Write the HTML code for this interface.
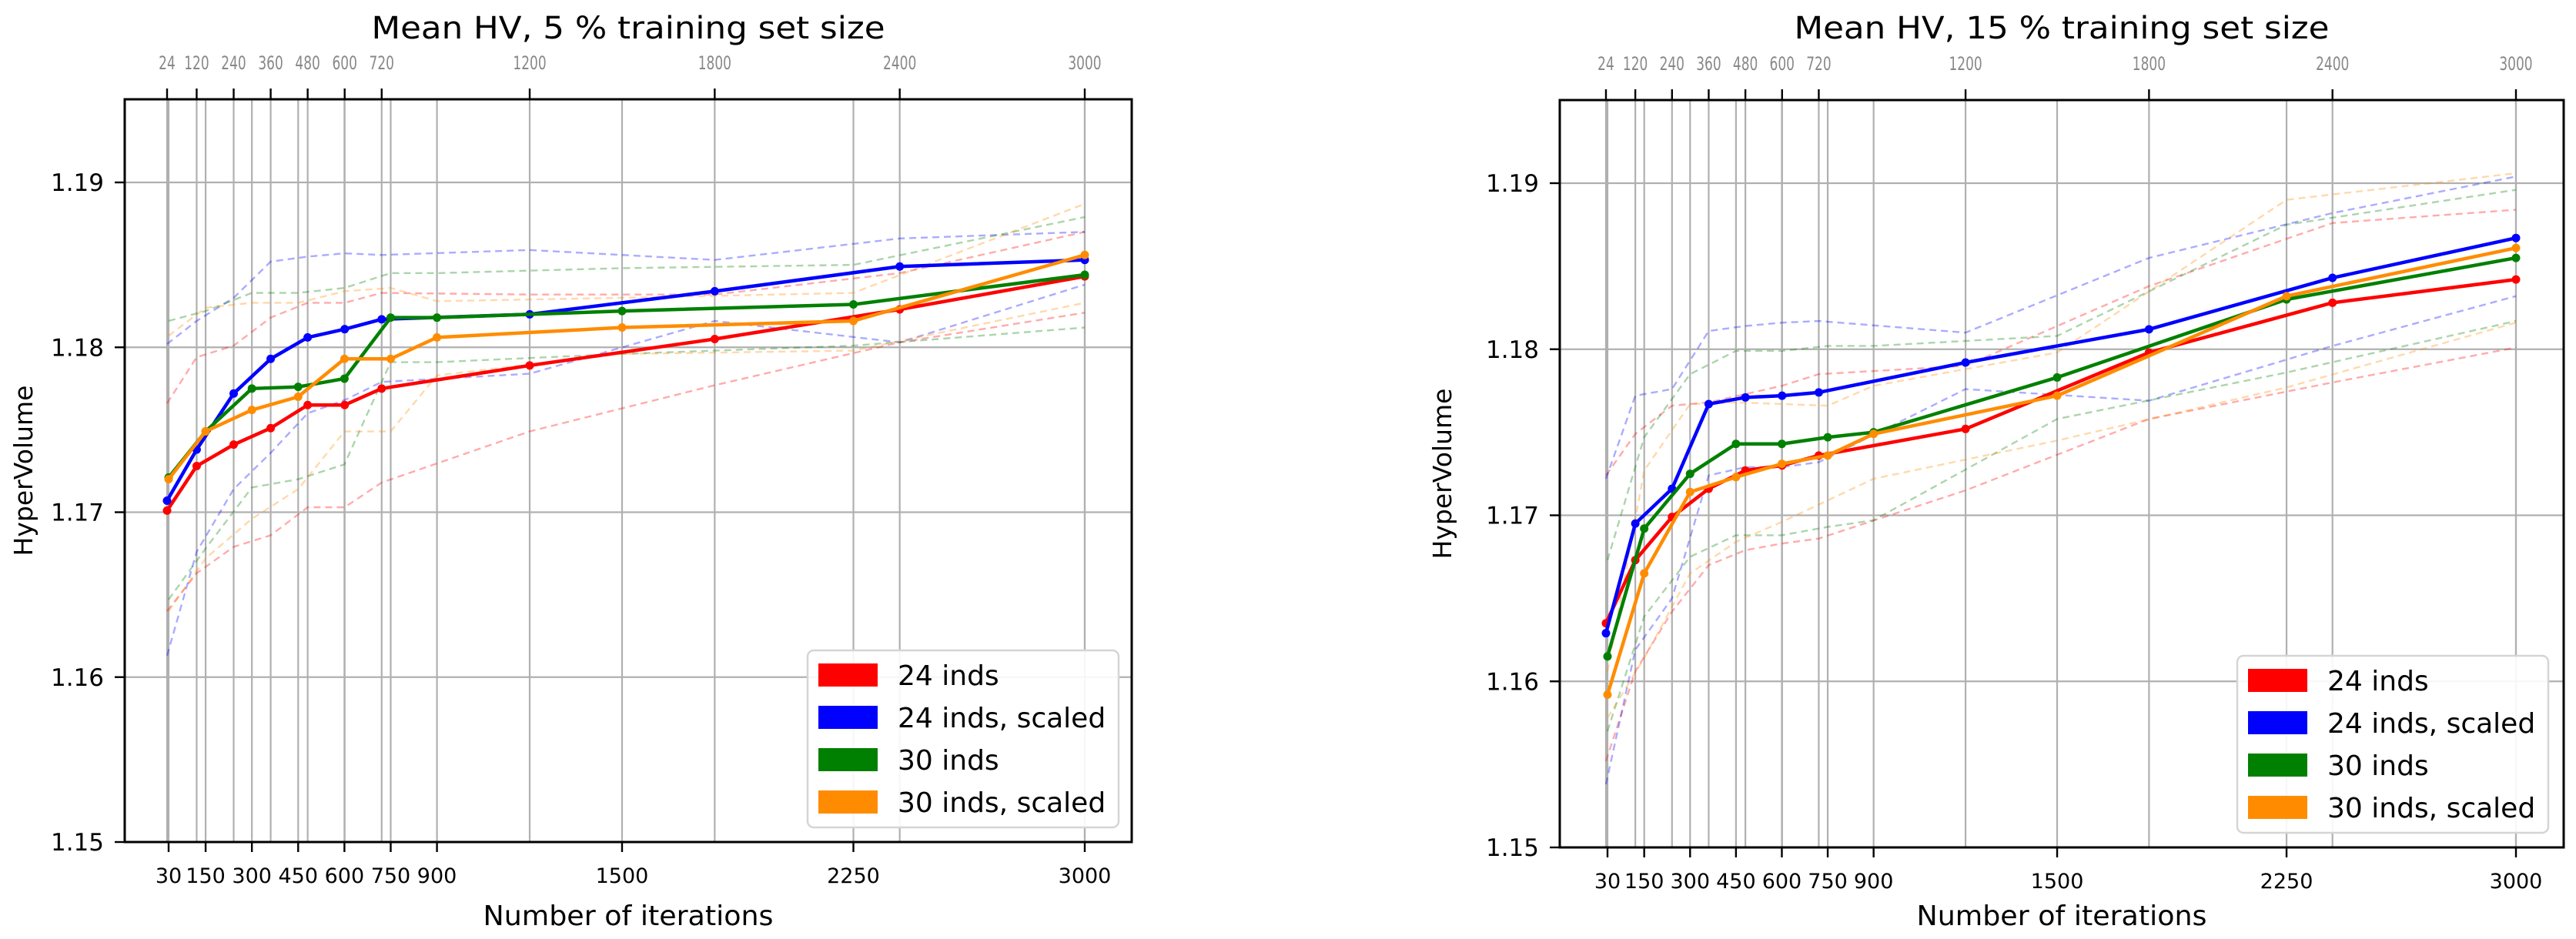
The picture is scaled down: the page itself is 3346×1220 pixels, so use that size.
<!DOCTYPE html>
<html><head><meta charset="utf-8">
<style>
html,body{margin:0;padding:0;background:#fff;}
svg{display:block;font-family:"DejaVu Sans","Liberation Sans",sans-serif;}
</style></head>
<body>
<svg id="fig" width="3346" height="1220" viewBox="0 0 3346 1220" xmlns="http://www.w3.org/2000/svg"></svg>
<script>
// ---- data ----
const topIters = [24,120,240,360,480,600,720,1200,1800,2400,3000];
const botIters = [30,150,300,450,600,750,900,1500,2250,3000];
const yTicks = [1.15,1.16,1.17,1.18,1.19];
const yTickLabels = ["1.15","1.16","1.17","1.18","1.19"];
const seriesNames = ["24 inds","24 inds, scaled","30 inds","30 inds, scaled"];

// Left (5 %)
const L_red = [1.1701,1.1728,1.1741,1.1751,1.1765,1.1765,1.1775,1.1789,1.1805,1.1823,1.1843];
const L_redHi = [1.1766,1.1794,1.1801,1.1818,1.1827,1.1827,1.1833,1.1832,1.1832,1.1845,1.1870];
const L_redLo = [1.1640,1.1663,1.1679,1.1686,1.1703,1.1703,1.1718,1.1749,1.1777,1.1803,1.1821];
const L_blue = [1.1707,1.1738,1.1772,1.1793,1.1806,1.1811,1.1817,1.1820,1.1834,1.1849,1.1853];
const L_blueHi = [1.1802,1.1816,1.1830,1.1852,1.1855,1.1857,1.1856,1.1859,1.1853,1.1866,1.1870];
const L_blueLo = [1.1613,1.1676,1.1714,1.1736,1.1760,1.1768,1.1779,1.1784,1.1816,1.1803,1.1838];
const L_green = [1.1721,1.1749,1.1775,1.1776,1.1781,1.1818,1.1818,1.1822,1.1826,1.1844];
const L_greenHi = [1.1816,1.1822,1.1833,1.1833,1.1836,1.1845,1.1845,1.1848,1.1850,1.1879];
const L_greenLo = [1.1647,1.1678,1.1715,1.1720,1.1729,1.1791,1.1791,1.1796,1.1801,1.1812];
const L_orange = [1.1720,1.1749,1.1762,1.1770,1.1793,1.1793,1.1806,1.1812,1.1816,1.1856];
const L_orangeHi = [1.1807,1.1824,1.1827,1.1827,1.1834,1.1836,1.1828,1.1830,1.1833,1.1887];
const L_orangeLo = [1.1640,1.1672,1.1696,1.1714,1.1749,1.1749,1.1783,1.1796,1.1798,1.1827];

// Right (15 %)
const R_red = [1.1635,1.1673,1.1699,1.1716,1.1727,1.1730,1.1736,1.1752,1.1798,1.1828,1.1842];
const R_redHi = [1.1724,1.1749,1.1766,1.1768,1.1773,1.1778,1.1785,1.1790,1.1838,1.1876,1.1884];
const R_redLo = [1.1552,1.1606,1.1642,1.1670,1.1679,1.1683,1.1686,1.1715,1.1758,1.1780,1.1801];
const R_blue = [1.1629,1.1695,1.1716,1.1767,1.1771,1.1772,1.1774,1.1792,1.1812,1.1843,1.1867];
const R_blueHi = [1.1722,1.1772,1.1776,1.1811,1.1814,1.1816,1.1817,1.1810,1.1855,1.1882,1.1904];
const R_blueLo = [1.1538,1.1619,1.1650,1.1724,1.1729,1.1729,1.1732,1.1776,1.1769,1.1802,1.1832];
const R_green = [1.1615,1.1692,1.1725,1.1743,1.1743,1.1747,1.1750,1.1783,1.1830,1.1855];
const R_greenHi = [1.1673,1.1747,1.1785,1.1799,1.1799,1.1802,1.1802,1.1808,1.1875,1.1896];
const R_greenLo = [1.1570,1.1639,1.1675,1.1688,1.1688,1.1693,1.1697,1.1758,1.1786,1.1817];
const R_orange = [1.1592,1.1665,1.1714,1.1723,1.1731,1.1736,1.1749,1.1772,1.1832,1.1861];
const R_orangeHi = [1.1606,1.1727,1.1767,1.1768,1.1767,1.1766,1.1778,1.1798,1.1890,1.1906];
const R_orangeLo = [1.1578,1.1614,1.1665,1.1684,1.1696,1.1709,1.1722,1.1745,1.1777,1.1816];

const colors = ["#ff0000","#0000ff","#008000","#ff8c00"];
const NS = "http://www.w3.org/2000/svg";
const svg = document.getElementById("fig");

function el(tag, attrs, parent, text){
  const e = document.createElementNS(NS, tag);
  for (const k in attrs) e.setAttribute(k, attrs[k]);
  if (text !== undefined) e.textContent = text;
  (parent||svg).appendChild(e);
  return e;
}

function drawPlot(cfg){
  const g = el("g", {});
  
  
  const xb = v => cfg.b30 + (v-30)*(cfg.b3000-cfg.b30)/2970;
  const xt = v => cfg.t24 + (v-24)*(cfg.b3000-cfg.t24)/2976;
  const y = v => cfg.y115 + (v-1.15)*(cfg.y119-cfg.y115)/0.04;
  // grid
  const grid = el("g", {stroke:"#b0b0b0","stroke-width":2.2}, g);
  
  
  yTicks.forEach(v => el("line",{x1:cfg.x0,x2:cfg.x1,y1:y(v),y2:y(v)},grid));
  botIters.forEach(v => el("line",{x1:xb(v),x2:xb(v),y1:cfg.y0,y2:cfg.y1},grid));
  topIters.forEach(v => el("line",{x1:xt(v),x2:xt(v),y1:cfg.y0,y2:cfg.y1},grid));
  // dashed min/max
  cfg.series.forEach((s,i) => {
    const xf = s.top ? xt : xb;
    const its = s.top ? topIters : botIters;
    [s.hi, s.lo].forEach((arr,j) => {
      const p = el("polyline",{points:arr.map((v,k)=>xf(its[k])+","+y(v)).join(" "),fill:"none",stroke:colors[i],"stroke-opacity":0.33,"stroke-width":2.4,"stroke-dasharray":"9,6"},g);
      
      
    });
  });
  // main lines
  cfg.series.forEach((s,i) => {
    const xf = s.top ? xt : xb;
    const its = s.top ? topIters : botIters;
    const p = el("polyline",{points:s.mean.map((v,k)=>xf(its[k])+","+y(v)).join(" "),fill:"none",stroke:colors[i],"stroke-width":4.5,"stroke-linejoin":"round"},g);
    
    
    s.mean.forEach((v,k) => {
      const c = el("circle",{cx:xf(its[k]),cy:y(v),r:5.5,fill:colors[i]},g);
      
      
    });
  });
  // frame
  const fr = el("rect",{x:cfg.x0,y:cfg.y0,width:cfg.x1-cfg.x0,height:cfg.y1-cfg.y0,fill:"none",stroke:"#000","stroke-width":3},g);
  
  
  // y ticks
  yTicks.forEach((v,i) => {
    el("line",{x1:cfg.x0-13,x2:cfg.x0,y1:y(v),y2:y(v),stroke:"#000","stroke-width":2.4},g);
    const t = el("text",{x:cfg.x0-27,y:y(v)+11,"text-anchor":"end","font-size":31,fill:"#000"},g,yTickLabels[i]);
    
    
  });
  // bottom ticks
  botIters.forEach(v => {
    el("line",{x1:xb(v),x2:xb(v),y1:cfg.y1,y2:cfg.y1+13,stroke:"#000","stroke-width":2.4},g);
    const t = el("text",{x:xb(v),y:cfg.y1+53,"text-anchor":"middle","font-size":27,fill:"#000"},g,String(v));
    
    
  });
  // top ticks
  topIters.forEach(v => {
    el("line",{x1:xt(v),x2:xt(v),y1:cfg.y0-14,y2:cfg.y0,stroke:"#000","stroke-width":2.4},g);
    const t = el("text",{x:xt(v),y:cfg.y0-39,"text-anchor":"middle","font-size":20,fill:"#888","transform":"translate("+xt(v)+",0) scale(0.85,1.2) translate("+(-xt(v))+",0)"},g,String(v));
    t.setAttribute('y', (cfg.y0-39)/1.2);
    
    
  });
  // titles
  const cx = (cfg.x0+cfg.x1)/2;
  const ti = el("text",{x:cx,y:50,"text-anchor":"middle","font-size":40,fill:"#000",textLength:cfg.titleLen,lengthAdjust:"spacingAndGlyphs"},g,cfg.title);
  
  
  const xl = el("text",{x:cx,y:1202,"text-anchor":"middle","font-size":36,fill:"#000",textLength:377,lengthAdjust:"spacingAndGlyphs"},g,"Number of iterations");
  
  
  const yc = (cfg.y0+cfg.y1)/2;
  const yl = el("text",{x:cfg.ylx,y:yc,"text-anchor":"middle","font-size":33,fill:"#000",transform:"rotate(-90 "+cfg.ylx+" "+yc+")"},g,"HyperVolume");
  
  
  // legend
  const lg = el("g",{},g);
  
  
  el("rect",{x:cfg.lx,y:cfg.ly,width:404,height:230,rx:8,fill:"#fff","fill-opacity":0.9,stroke:"#d5d5d5","stroke-width":2.5},lg);
  seriesNames.forEach((n,i) => {
    const cy = cfg.ly + 32 + i*55;
    const r = el("rect",{x:cfg.lx+14,y:cy-15,width:77,height:30,fill:colors[i]},lg);
    
    
    const t = el("text",{x:cfg.lx+117,y:cy+13,"font-size":36,fill:"#000"},lg,n);
    
    
  });
}

drawPlot({name:"left-chart",x0:162,x1:1470,y0:129,y1:1094,b30:219,b3000:1409,t24:217,y115:1094,y119:237,
  title:"Mean HV, 5 % training set size",titleLen:667,ylx:42,lx:1049,ly:845,
  series:[{top:true,mean:L_red,hi:L_redHi,lo:L_redLo},{top:true,mean:L_blue,hi:L_blueHi,lo:L_blueLo},
          {top:false,mean:L_green,hi:L_greenHi,lo:L_greenLo},{top:false,mean:L_orange,hi:L_orangeHi,lo:L_orangeLo}]});
drawPlot({name:"right-chart",x0:2026,x1:3330,y0:130,y1:1101,b30:2088,b3000:3268,t24:2086,y115:1101,y119:238,
  title:"Mean HV, 15 % training set size",titleLen:695,ylx:1885,lx:2906,ly:852,
  series:[{top:true,mean:R_red,hi:R_redHi,lo:R_redLo},{top:true,mean:R_blue,hi:R_blueHi,lo:R_blueLo},
          {top:false,mean:R_green,hi:R_greenHi,lo:R_greenLo},{top:false,mean:R_orange,hi:R_orangeHi,lo:R_orangeLo}]});
</script>
</body></html>
